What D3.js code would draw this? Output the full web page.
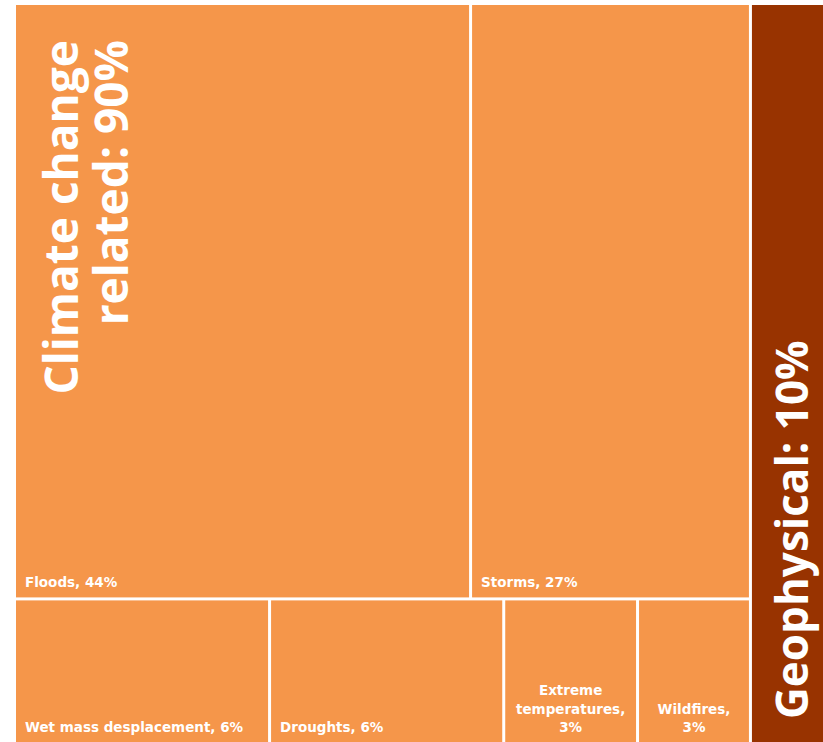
<!DOCTYPE html>
<html>
<head>
<meta charset="utf-8">
<script src="https://cdn.jsdelivr.net/npm/d3@7"></script>
<style>
  body { margin: 0; background: #fff; }
  svg { display: block; }
  text { font-family: "Open Sans", "DejaVu Sans", sans-serif; font-weight: 700; fill: #fff; }
  text.small { font-family: "DejaVu Sans", sans-serif; }
</style>
</head>
<body>
<script>
// groups (first level of the treemap)
const groups = ["Climate change related", "Geophysical"];
const groupPct = ["90%", "10%"];
const groupColors = ["#F5964A", "#983300"];

// climate rows, then the leaves in each row
const topRow = ["Floods", "Storms"];
const topValues = [44, 27];
const topPct = ["44%", "27%"];

const bottomRow = ["Wet mass desplacement", "Droughts", "Extreme temperatures", "Wildfires"];
const bottomValues = [6.1, 5.6, 3.2, 2.7];
const bottomPct = ["6%", "6%", "3%", "3%"];

const geoValue = 10;

const chart = (() => {
  var initModule, buildTree, wrapLines;

  buildTree = () => {
    var row = (names, values, pct, key) => ({
      name: key,
      children: names.map((n, i) => ({ name: n, value: values[i], pct: pct[i], row: key }))
    });
    return {
      name: "root",
      children: [
        { name: groups[0], pct: groupPct[0], children: [
          row(topRow, topValues, topPct, "top"),
          row(bottomRow, bottomValues, bottomPct, "bottom")
        ]},
        { name: groups[1], pct: groupPct[1], value: geoValue }
      ]
    };
  };

  // small labels that need to wrap inside narrow cells
  wrapLines = (d) => {
    if (d.data.name === "Extreme temperatures") return ["Extreme", "temperatures,", d.data.pct];
    if (d.data.name === "Wildfires") return ["Wildfires,", d.data.pct];
    return [d.data.name + ", " + d.data.pct];
  };

  initModule = () => {
    let width = 823,
        height = 742;

    const svg = d3.select("body").append("svg")
      .attr("width", width)
      .attr("height", height);

    const root = d3.hierarchy(buildTree())
      .sum(d => d.value || 0);

    d3.treemap()
      .tile(d3.treemapSliceDice)
      .size([816, 740])
      .paddingInner(3)(root);

    const g = svg.append("g")
      .attr("transform", "translate(16,5)");

    const color = d3.scaleOrdinal().domain(groups).range(groupColors);

    const groupOf = d => d.depth === 1 ? d : d.ancestors().find(a => a.depth === 1);

    const leaves = root.leaves();

    g.selectAll("rect")
      .data(leaves)
      .enter().append("rect")
      .attr("x", d => d.x0)
      .attr("y", d => d.y0)
      .attr("width", d => d.x1 - d.x0)
      .attr("height", d => d.y1 - d.y0)
      .attr("fill", d => color(groupOf(d).data.name));

    // leaf labels
    const lineH = 18.5;
    leaves.filter(d => d.depth === 3).forEach(d => {
      var lines = wrapLines(d);
      var multi = lines.length > 1;
      var bottomY = d.data.row === "top" ? d.y1 - 10 : d.y1 - 13;
      var t = g.append("text")
        .attr("class", "small")
        .attr("font-size", 13.5)
        .attr("text-anchor", multi ? "middle" : "start");
      lines.forEach((l, i) => {
        t.append("tspan")
          .attr("x", multi ? (d.x0 + d.x1) / 2 : d.x0 + 9)
          .attr("y", bottomY - (lines.length - 1 - i) * lineH)
          .text(l);
      });
    });

    // big rotated group labels
    const climate = root.children[0];
    const ct = g.append("text")
      .attr("font-size", 46)
      .attr("text-anchor", "end")
      .attr("transform", `translate(${climate.x0 + 62},${climate.y0 + 35}) rotate(-90)`);
    ct.append("tspan").attr("x", 0).attr("y", 0).text("Climate change");
    ct.append("tspan").attr("x", 0).attr("y", 50).text("related: " + climate.data.pct);

    const geo = root.children[1];
    g.append("text")
      .attr("font-size", 44)
      .attr("text-anchor", "start")
      .attr("transform", `translate(${geo.x0 + 56},${geo.y1 - 26}) rotate(-90)`)
      .text(geo.data.name + ": " + geo.data.pct);

    return "chart initialized";
  };

  return { initModule: initModule };
})();

chart.initModule();
</script>
</body>
</html>
